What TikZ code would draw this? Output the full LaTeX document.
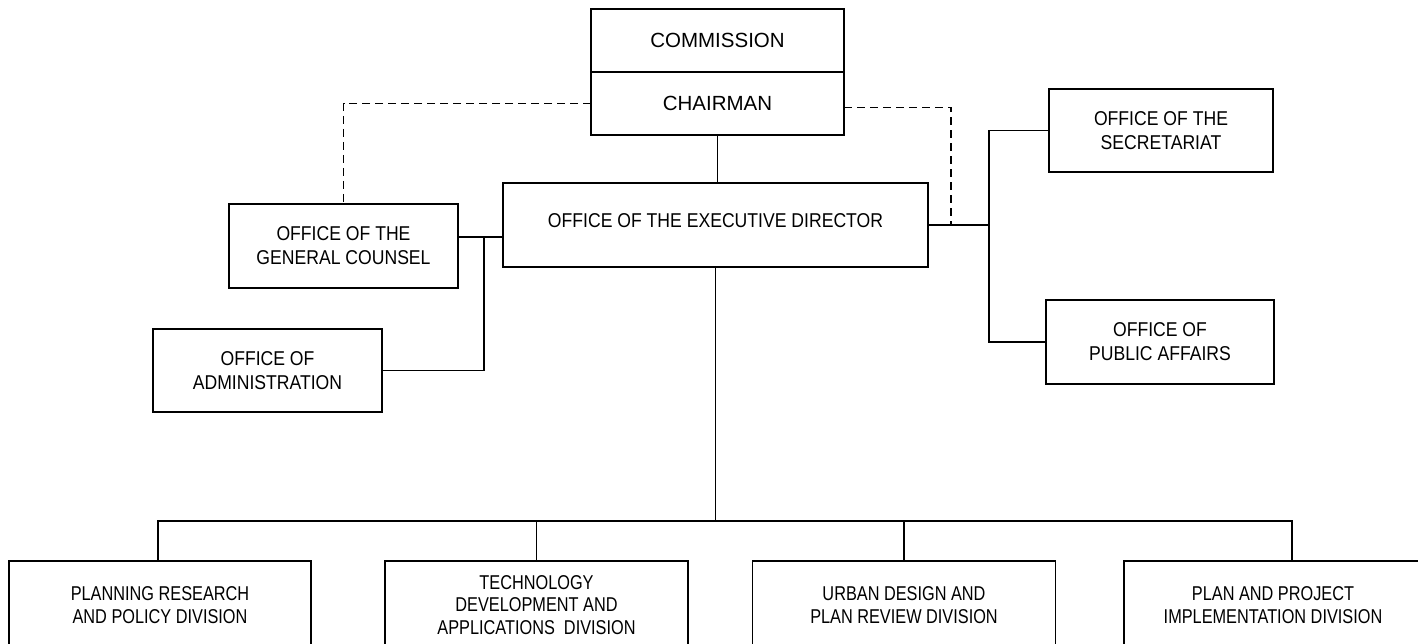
\documentclass[tikz,border=0pt]{standalone}
\usepackage{fontspec}
\setmainfont{Liberation Sans}
\newfontfamily\boxfont[FakeStretch=0.88]{Liberation Sans}
\newfontfamily\divfont[FakeStretch=0.815]{Liberation Sans}
\begin{document}
\begin{tikzpicture}[x=1pt, y=-1pt, line width=1.2pt,
  topbox/.style={draw, align=center, inner sep=0pt, outer sep=0pt, minimum width=253pt, minimum height=63pt, font=\fontsize{20.5}{24}\selectfont},
  orgbox/.style={draw, align=center, inner sep=0pt, outer sep=0pt, font=\boxfont\fontsize{20}{24}\selectfont},
  divbox/.style={draw, align=center, inner sep=0pt, outer sep=0pt, minimum width=303pt, minimum height=88pt, font=\divfont\fontsize{20}{22.5}\selectfont},
  dashline/.style={dash pattern=on 8pt off 5pt}]
\useasboundingbox (0,0) rectangle (1418,644);
\clip (0,0) rectangle (1418,644);
\node[topbox] (comm) at (717.5,40.5) {COMMISSION};
\node[topbox] (chair) at (717.5,103.5) {CHAIRMAN};
\node[orgbox, minimum width=425pt, minimum height=84pt, text depth=9pt] (exec) at (715.5,225) {OFFICE OF THE EXECUTIVE DIRECTOR};
\node[orgbox, minimum width=229pt, minimum height=84pt] (gc) at (343.5,246) {OFFICE OF THE\\GENERAL COUNSEL};
\node[orgbox, minimum width=229pt, minimum height=83pt] (adm) at (267.5,370.5) {OFFICE OF\\ADMINISTRATION};
\node[orgbox, minimum width=224pt, minimum height=83pt] (sec) at (1161,130.5) {OFFICE OF THE\\SECRETARIAT};
\node[orgbox, minimum width=228pt, minimum height=84pt] (pub) at (1160,342) {OFFICE OF\\PUBLIC AFFAIRS};
\node[divbox, minimum width=302pt] (prp) at (160,605) {PLANNING RESEARCH\\AND POLICY DIVISION};
\node[divbox] (tda) at (536.5,605) {TECHNOLOGY\\DEVELOPMENT AND\\APPLICATIONS~ DIVISION};
\node[divbox] (ud) at (904,605) {URBAN DESIGN AND\\PLAN REVIEW DIVISION};
\node[divbox, minimum width=298pt] (ppi) at (1273,605) {PLAN AND PROJECT\\IMPLEMENTATION DIVISION};
\coordinate (lj) at (484,237);
\coordinate (rj) at (989,225);
\coordinate (rd) at (951,225);
\coordinate (bus) at (717,521);
% chairman and staff offices
\draw (chair.south) -- (chair.south |- exec.north);
\draw[dashline] (chair.west) -| (gc.north);
\draw[dashline] ([yshift=-4pt]chair.east) -| (rd);
\draw (exec.west |- lj) -- (gc.east |- lj);
\draw (lj) |- (adm.east);
\draw (exec.east) -- (rj);
\draw (sec.west) -| (rj) |- (pub.west);
% divisions
\draw (exec.south) -- (exec.south |- bus);
\draw ([xshift=-2pt]prp.north) |- (bus) -| ([xshift=19pt]ppi.north);
\draw (tda.north) -- (tda.north |- bus);
\draw (ud.north) -- (ud.north |- bus);
\end{tikzpicture}
\end{document}
